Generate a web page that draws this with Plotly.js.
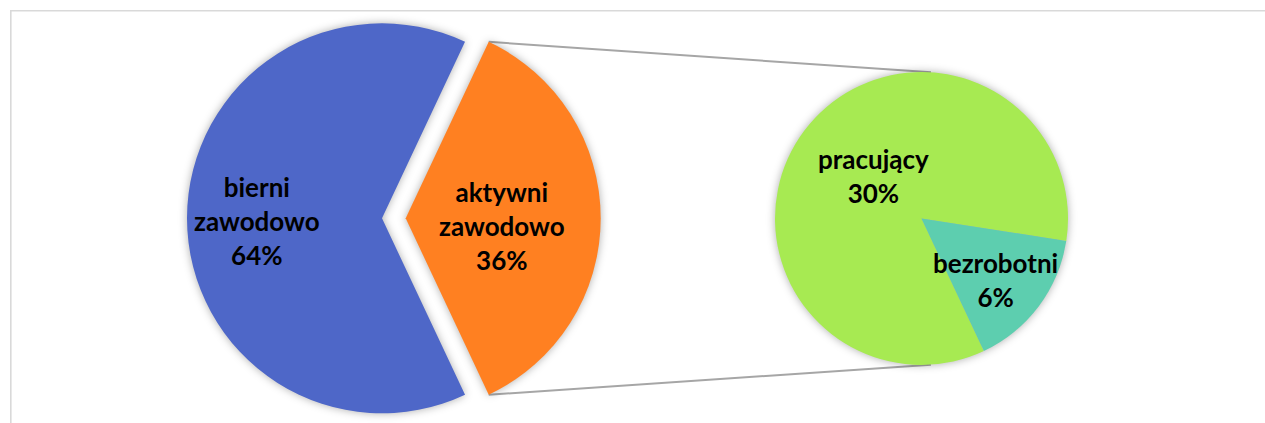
<!DOCTYPE html>
<html>
<head>
<meta charset="utf-8">
<script src="https://cdn.plot.ly/plotly-3.0.1.min.js"></script>
<style>
  html, body { margin: 0; padding: 0; background: #fff; }
  #chart { width: 1265px; height: 423px; }
  .js-plotly-plot .pielayer g.trace { filter: drop-shadow(0 0 4px rgba(0,0,0,0.32)); }
</style>
</head>
<body>
<div id="chart"></div>
<script>
// ---- data ----
const mainLabels = ['bierni zawodowo', 'aktywni zawodowo'];
const mainLabelText = ['bierni<br>zawodowo', 'aktywni<br>zawodowo'];
const mainValues = [64, 36];
const mainPercentText = ['64%', '36%'];

const subLabels = ['pracujący', 'bezrobotni'];
const subValues = [30.4, 5.6];            // as drawn (labels round to 30% / 6%)
const subPercentText = ['30%', '6%'];

// ---- styling / geometry ----
const W = 1265, H = 423;
const colMain = ['#4E67C8', '#FF8021'];
const colSub = ['#A7EA52', '#5DCEAF'];
const clear = 'rgba(0,0,0,0)';

const R1 = 195, C1 = [382, 218.3], PULL = 23.7;
const R2 = 146.5, C2 = [921.5, 218.5];
const SUB_ROT = 154.8;

function dom(cx, cy, r) {
  return { x: [(cx - r) / W, (cx + r) / W], y: [(H - cy - r) / H, (H - cy + r) / H] };
}
const totMain = mainValues.reduce((a, b) => a + b, 0);
const halfOther = mainValues[1] / totMain * 180;   // half angle of pulled slice
const mainRot = 90 + halfOther;

const common = { type: 'pie', sort: false, direction: 'clockwise', textinfo: 'none',
  hoverinfo: 'skip', showlegend: false };

const traces = [
  Object.assign({}, common, { values: mainValues, labels: mainLabels, rotation: mainRot,
    marker: { colors: [colMain[0], clear], line: { width: 0 } }, domain: dom(C1[0], C1[1], R1) }),
  Object.assign({}, common, { values: mainValues, labels: mainLabels, rotation: mainRot,
    marker: { colors: [clear, colMain[1]], line: { width: 0 } }, domain: dom(C1[0] + PULL, C1[1], R1) }),
  Object.assign({}, common, { values: subValues, labels: subLabels, rotation: SUB_ROT,
    marker: { colors: colSub, line: { width: 0 } }, domain: dom(C2[0], C2[1], R2) })
];

// connector lines from the pulled slice corners to the second pie
const a = (90 - halfOther) * Math.PI / 180;
const ox = C1[0] + PULL + R1 * Math.sin(a);
const oyTop = C1[1] - R1 * Math.cos(a), oyBot = C1[1] + R1 * Math.cos(a);
const b = 3.7 * Math.PI / 180;
const ex = C2[0] + R2 * Math.sin(b);
const eyTop = C2[1] - R2 * Math.cos(b), eyBot = C2[1] + R2 * Math.cos(b);
const px = v => v / W, py = v => 1 - v / H;
const lineStyle = { color: '#A6A6A6', width: 2 };
const frameStyle = { color: '#D9D9D9', width: 1.6 };

const shapes = [
  { type: 'line', xref: 'paper', yref: 'paper', x0: px(ox), y0: py(oyTop), x1: px(ex), y1: py(eyTop), line: lineStyle, layer: 'below' },
  { type: 'line', xref: 'paper', yref: 'paper', x0: px(ox), y0: py(oyBot), x1: px(ex), y1: py(eyBot), line: lineStyle, layer: 'below' },
  { type: 'line', xref: 'paper', yref: 'paper', x0: px(10), y0: py(10.8), x1: 1, y1: py(10.8), line: frameStyle },
  { type: 'line', xref: 'paper', yref: 'paper', x0: px(10.8), y0: py(10), x1: px(10.8), y1: 0, line: frameStyle }
];

const font = { family: 'Lato, "Open Sans", sans-serif', size: 26, color: '#000' };
const labelPos = [[257, 221], [502, 226], [873, 176], [995, 280]];
const texts = [
  '<b>' + mainLabelText[0] + '<br>' + mainPercentText[0] + '</b>',
  '<b>' + mainLabelText[1] + '<br>' + mainPercentText[1] + '</b>',
  '<b>' + subLabels[0] + '<br>' + subPercentText[0] + '</b>',
  '<b>' + subLabels[1] + '<br>' + subPercentText[1] + '</b>'
];
const annotations = texts.map((t, i) => ({
  text: t, xref: 'paper', yref: 'paper', x: px(labelPos[i][0]), y: py(labelPos[i][1]),
  xanchor: 'center', yanchor: 'middle', showarrow: false, font: font, align: 'center'
}));

const layout = {
  width: W, height: H, margin: { l: 0, r: 0, t: 0, b: 0 },
  paper_bgcolor: '#fff', plot_bgcolor: '#fff', showlegend: false,
  shapes: shapes, annotations: annotations
};

Plotly.newPlot('chart', traces, layout, { staticPlot: true, displayModeBar: false });
</script>
</body>
</html>
